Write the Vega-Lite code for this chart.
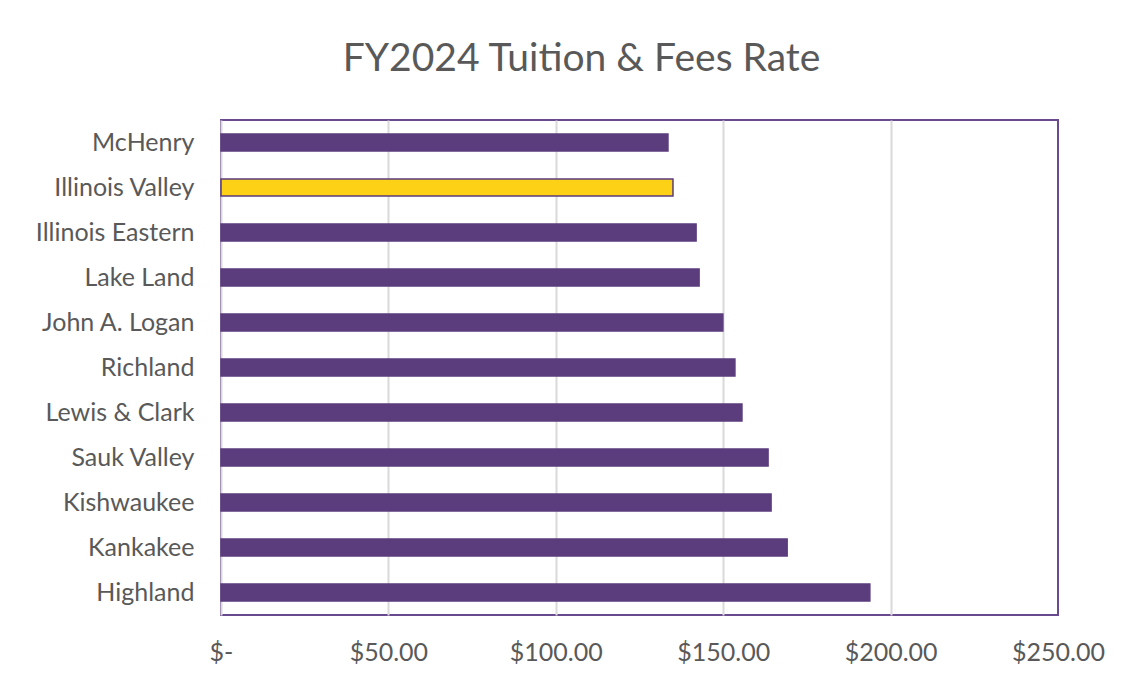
{
  "$schema": "https://vega.github.io/schema/vega-lite/v6.json",
  "width": 837,
  "height": 495,
  "autosize": {"type": "none"},
  "padding": {"left": 221, "top": 120, "right": 80, "bottom": 71},
  "background": "white",
  "title": {
    "text": "FY2024 Tuition & Fees Rate",
    "font": "Lato",
    "fontSize": 39,
    "fontWeight": "normal",
    "color": "#595959",
    "anchor": "middle",
    "dx": -58,
    "offset": 41
  },
  "data": {
    "values": [
      {"college": "McHenry", "rate": 133.5, "highlight": "no"},
      {"college": "Illinois Valley", "rate": 135.0, "highlight": "yes"},
      {"college": "Illinois Eastern", "rate": 141.9, "highlight": "no"},
      {"college": "Lake Land", "rate": 142.8, "highlight": "no"},
      {"college": "John A. Logan", "rate": 149.9, "highlight": "no"},
      {"college": "Richland", "rate": 153.5, "highlight": "no"},
      {"college": "Lewis & Clark", "rate": 155.6, "highlight": "no"},
      {"college": "Sauk Valley", "rate": 163.4, "highlight": "no"},
      {"college": "Kishwaukee", "rate": 164.3, "highlight": "no"},
      {"college": "Kankakee", "rate": 169.1, "highlight": "no"},
      {"college": "Highland", "rate": 193.8, "highlight": "no"}
    ]
  },
  "mark": {"type": "bar", "strokeWidth": 1.5},
  "encoding": {
    "y": {
      "field": "college",
      "type": "nominal",
      "sort": null,
      "title": null,
      "scale": {"paddingInner": 0.62, "paddingOuter": 0.31},
      "axis": {
        "ticks": false,
        "domain": false,
        "labelFont": "Lato",
        "labelFontSize": 25,
        "labelColor": "#595959",
        "labelPadding": 27
      }
    },
    "x": {
      "field": "rate",
      "type": "quantitative",
      "title": null,
      "scale": {"domain": [0, 250], "nice": false},
      "axis": {
        "values": [0, 50, 100, 150, 200, 250],
        "labelExpr": "datum.value === 0 ? '$-' : '$' + format(datum.value, '.2f')",
        "ticks": false,
        "domain": false,
        "gridColor": {"condition": {"test": "datum.value === 250", "value": "transparent"}, "value": "#D9D9D9"},
        "gridWidth": 2,
        "labelFont": "Lato",
        "labelFontSize": 25,
        "labelColor": "#595959",
        "labelPadding": 25,
        "labelFlush": false
      }
    },
    "color": {
      "field": "highlight",
      "type": "nominal",
      "scale": {"domain": ["no", "yes"], "range": ["#5B3C7D", "#FCD116"]},
      "legend": null
    },
    "stroke": {"value": "#5B3C7D"}
  },
  "config": {
    "view": {"stroke": "#6A4A8F", "strokeWidth": 2}
  }
}
